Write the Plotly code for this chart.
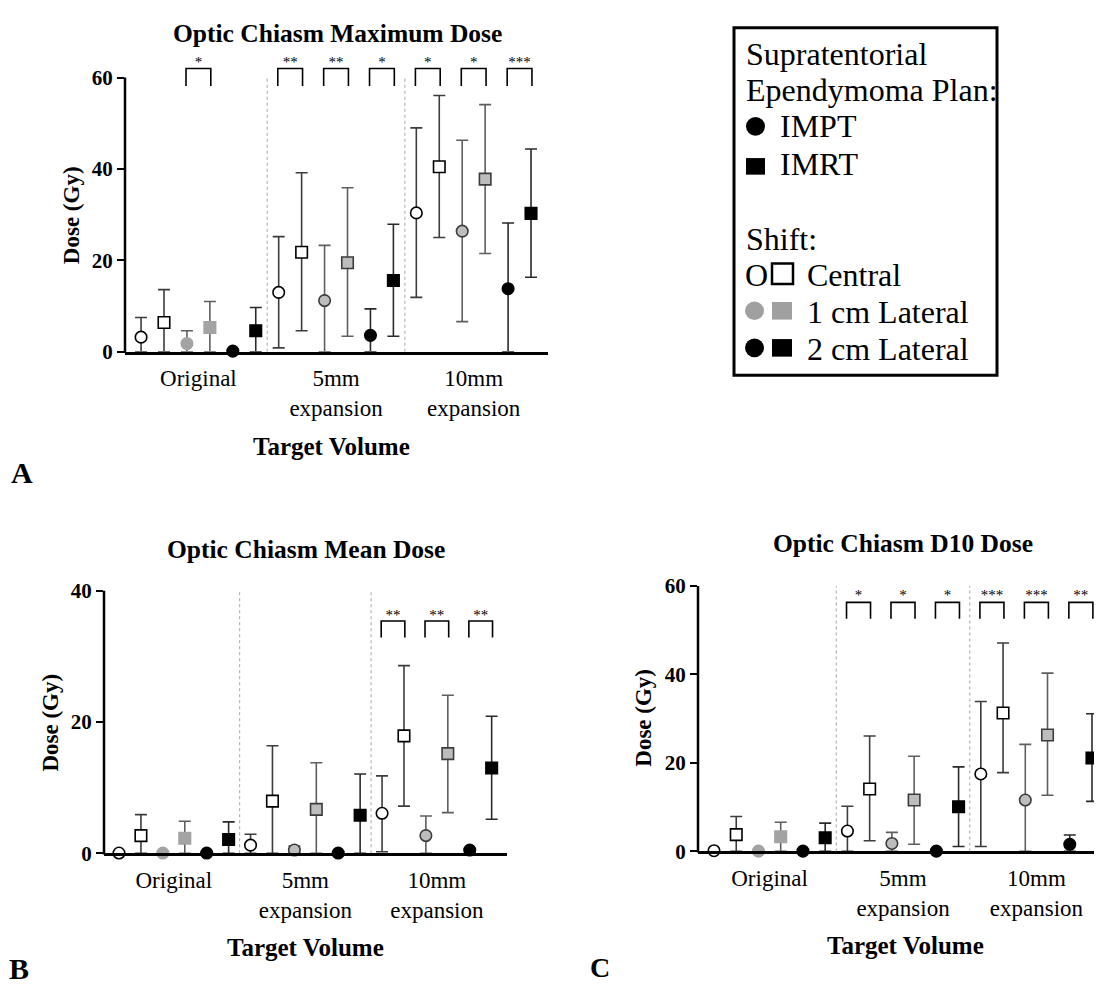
import plotly.graph_objects as go

W, H = 1102, 992
OFF = 8  # page body margin in the browser: figure starts 8px right/down


def X(px):
    return (px - OFF) / W


def Y(py):
    return 1 - (py - OFF) / H


FONT = "Liberation Serif, Times New Roman, serif"

# ---------------- data ----------------
group_labels = ["Original", "5mm<br>expansion", "10mm<br>expansion"]
# series order inside each group:
series_names = ["IMPT Central", "IMRT Central", "IMPT 1 cm Lateral",
                "IMRT 1 cm Lateral", "IMPT 2 cm Lateral", "IMRT 2 cm Lateral"]

# Panel A: Optic Chiasm Maximum Dose (Gy) - 18 values: Original(6), 5mm(6), 10mm(6)
max_mean = [3.2, 6.4, 1.8, 5.3, 0.15, 4.6,
            13.0, 21.8, 11.2, 19.5, 3.6, 15.6,
            30.4, 40.5, 26.4, 37.8, 13.8, 30.3]
max_hi = [7.5, 13.6, 4.6, 11.0, 0.15, 9.7,
          25.2, 39.2, 23.3, 35.9, 9.4, 27.9,
          49.0, 56.1, 46.3, 54.1, 28.2, 44.4]
max_lo = [0, 0, 0, 0, 0.15, 0,
          0.85, 4.6, 0, 3.4, 0, 3.4,
          11.9, 25.0, 6.6, 21.5, 0, 16.3]
max_pairs = [(2, 3), (6, 7), (8, 9), (10, 11), (12, 13), (14, 15), (16, 17)]
max_stars = ["*", "**", "**", "*", "*", "*", "***"]

# Panel B: Optic Chiasm Mean Dose (Gy)
mean_mean = [0.05, 2.7, 0.05, 2.3, 0.05, 2.1,
             1.25, 7.95, 0.5, 6.7, 0.05, 5.8,
             6.1, 17.9, 2.7, 15.2, 0.5, 13.0]
mean_hi = [0.05, 5.9, 0.05, 4.9, 0.05, 4.8,
           2.9, 16.4, 1.1, 13.8, 0.05, 12.1,
           11.8, 28.6, 5.7, 24.1, 0.5, 20.9]
mean_lo = [0, 0, 0, 0, 0, 0,
           0, 0, 0, 0, 0, 0,
           0.25, 7.2, 0, 6.2, 0.5, 5.2]
mean_pairs = [(12, 13), (14, 15), (16, 17)]
mean_stars = ["**", "**", "**"]

# Panel C: Optic Chiasm D10 Dose (Gy)
d10_mean = [0.15, 3.8, 0.05, 3.3, 0.05, 3.1,
            4.6, 14.1, 1.8, 11.6, 0.05, 10.1,
            17.5, 31.3, 11.6, 26.3, 1.6, 21.1]
d10_hi = [0.15, 7.9, 0.05, 6.6, 0.05, 6.4,
          10.2, 26.1, 4.3, 21.5, 0.05, 19.1,
          33.9, 47.1, 24.2, 40.3, 3.7, 31.1]
d10_lo = [0.15, 0, 0, 0, 0, 0,
          0, 2.4, 0, 1.6, 0, 1.1,
          1.1, 17.8, 0, 12.7, 0, 11.3]
d10_pairs = [(6, 7), (8, 9), (10, 11), (12, 13), (14, 15), (16, 17)]
d10_stars = ["*", "*", "*", "***", "***", "**"]

n_series = len(series_names)
n_groups = len(group_labels)

# ---------------- panel layout (reference pixels) ----------------
panels = [
    dict(key="", mean=max_mean, hi=max_hi, lo=max_lo, pairs=max_pairs, stars=max_stars,
         title="Optic Chiasm Maximum Dose", xpx=(125, 548), ypx=(348, 39), yaxis_top_px=67,
         xrange=[-0.7, 17.74], yrange=[0, 66], ytop=60, yticks=[0, 20, 40, 60],
         br=(58.2, 62.0, 63.2), title_pos=(337, 22), xtitle_pos=(331, 445), ytitle_pos=(71, 208),
         label="A", label_pos=(22, 472), label_size=30),
    dict(key="2", mean=mean_mean, hi=mean_hi, lo=mean_lo, pairs=mean_pairs, stars=mean_stars,
         title="Optic Chiasm Mean Dose", xpx=(104, 507), ypx=(862, 593), yaxis_top_px=593,
         xrange=[-0.685, 17.7], yrange=[0, 40], ytop=40, yticks=[0, 20, 40],
         br=(32.9, 35.4, 36.2), title_pos=(306, 551), xtitle_pos=(305, 958), ytitle_pos=(51, 728),
         label="B", label_pos=(19, 980), label_size=30),
    dict(key="3", mean=d10_mean, hi=d10_hi, lo=d10_lo, pairs=d10_pairs, stars=d10_stars,
         title="Optic Chiasm D10 Dose", xpx=(698, 1110), ypx=(860, 588), yaxis_top_px=588,
         xrange=[-0.72, 17.81], yrange=[0, 60], ytop=60, yticks=[0, 20, 40, 60],
         br=(52.6, 56.3, 57.6), title_pos=(903, 544), xtitle_pos=(905, 956), ytitle_pos=(644, 723),
         label="C", label_pos=(600, 979), label_size=28),
]

symbols = ["circle", "square"] * 3
GRAY_FLAT = "#a3a3a3"
GRAY_FILL = "#bdbdbd"


def marker_style(k):
    shift = k // 2
    if shift == 0:
        return ["white"] * 3, ["black"] * 3, "#3c3c3c"
    if shift == 1:
        return [GRAY_FLAT, GRAY_FILL, GRAY_FILL], [GRAY_FLAT, "#3c3c3c", "#3c3c3c"], "#5e5e5e"
    return ["black"] * 3, ["black"] * 3, "#2a2a2a"


fig = go.Figure()
shapes = []
annotations = []

for p in panels:
    xa = "x" + p["key"]
    ya = "y" + p["key"]
    for k in range(n_series):
        idx = [g * n_series + k for g in range(n_groups)]
        ys = [p["mean"][i] for i in idx]
        plus = [max(p["hi"][i] - p["mean"][i], 0) for i in idx]
        minus = [max(p["mean"][i] - p["lo"][i], 0) for i in idx]
        fills, lines, ecol = marker_style(k)
        fig.add_trace(go.Scatter(
            x=idx, y=ys, mode="markers", name=series_names[k], xaxis=xa, yaxis=ya,
            showlegend=False, cliponaxis=False,
            marker=dict(symbol=symbols[k], size=11.5, color=fills,
                        line=dict(color=lines, width=1.6)),
            error_y=dict(type="data", symmetric=False, array=plus, arrayminus=minus,
                         color=ecol, thickness=1.6, width=6),
        ))
    # significance brackets
    b0, b1, bs = p["br"]
    bx, by = [], []
    for (i, j) in p["pairs"]:
        bx += [i - 0.04, i - 0.04, j + 0.04, j + 0.04, None]
        by += [b0, b1, b1, b0, None]
    fig.add_trace(go.Scatter(x=bx, y=by, mode="lines", xaxis=xa, yaxis=ya, showlegend=False,
                             line=dict(color="black", width=1.6), hoverinfo="skip"))
    fig.add_trace(go.Scatter(x=[(i + j) / 2 for (i, j) in p["pairs"]], y=[bs] * len(p["pairs"]),
                             mode="text", text=p["stars"], textposition="middle center",
                             textfont=dict(family=FONT, size=15, color="black"),
                             xaxis=xa, yaxis=ya, showlegend=False, cliponaxis=False,
                             hoverinfo="skip"))
    # dotted group separators
    for g in range(1, n_groups):
        xsep = g * n_series - 0.5
        shapes.append(dict(type="line", xref=xa, yref=ya, x0=xsep, x1=xsep, y0=0, y1=p["ytop"],
                           line=dict(color="#b5b5b5", width=1.2, dash="dot")))
    # y axis line (stops at top tick)
    shapes.append(dict(type="line", xref="paper", yref="paper",
                       x0=X(p["xpx"][0]), x1=X(p["xpx"][0]),
                       y0=Y(p["ypx"][0] + 1.2), y1=Y(p["yaxis_top_px"]),
                       line=dict(color="black", width=2.5)))
    # titles
    annotations.append(dict(text=p["title"], x=X(p["title_pos"][0]), y=Y(p["title_pos"][1]),
                            xref="paper", yref="paper", xanchor="center", yanchor="middle",
                            showarrow=False,
                            font=dict(family=FONT, size=25.5, color="black", weight="bold")))
    annotations.append(dict(text="Target Volume", x=X(p["xtitle_pos"][0]), y=Y(p["xtitle_pos"][1]),
                            xref="paper", yref="paper", xanchor="center", yanchor="middle",
                            showarrow=False,
                            font=dict(family=FONT, size=25, color="black", weight="bold")))
    annotations.append(dict(text="Dose (Gy)", x=X(p["ytitle_pos"][0]), y=Y(p["ytitle_pos"][1]),
                            xref="paper", yref="paper", xanchor="center", yanchor="middle",
                            textangle=-90, showarrow=False,
                            font=dict(family=FONT, size=23, color="black", weight="bold")))
    annotations.append(dict(text=p["label"], x=X(p["label_pos"][0]), y=Y(p["label_pos"][1]),
                            xref="paper", yref="paper", xanchor="center", yanchor="middle",
                            showarrow=False,
                            font=dict(family=FONT, size=p["label_size"], color="black",
                                      weight="bold")))

# ---------------- legend box ----------------
shapes.append(dict(type="rect", xref="paper", yref="paper", x0=X(734), x1=X(997),
                   y0=Y(372), y1=Y(16), line=dict(color="black", width=3)))

LEG_GRAY = "#a0a0a0"


def leg_circle(x0, yc, color, d=19):
    shapes.append(dict(type="circle", xref="paper", yref="paper",
                       x0=X(x0), x1=X(x0 + d), y0=Y(yc + d / 2), y1=Y(yc - d / 2),
                       fillcolor=color, line=dict(color=color, width=0)))


def leg_square(x0, yc, color, w=19, h=17, hollow=False):
    shapes.append(dict(type="rect", xref="paper", yref="paper",
                       x0=X(x0), x1=X(x0 + w), y0=Y(yc + h / 2), y1=Y(yc - h / 2),
                       fillcolor="rgba(0,0,0,0)" if hollow else color,
                       line=dict(color=color, width=2.5 if hollow else 0)))


leg_circle(746, 117, "black")
leg_square(746, 158, "black")
leg_square(772, 268, "black", w=21, h=21, hollow=True)
leg_circle(745, 306, LEG_GRAY)
leg_square(772, 306, LEG_GRAY, w=20, h=18)
leg_circle(745, 344, "black")
leg_square(772, 344, "black", w=20, h=18)

legend_text = [
    ("Supratentorial", 744, 43),
    ("Ependymoma Plan:", 744, 80),
    ("IMPT", 778, 117),
    ("IMRT", 778, 156),
    ("Shift:", 744, 232),
    ("O", 743, 269),
    ("Central", 805, 269),
    ("1 cm Lateral", 805, 307),
    ("2 cm Lateral", 805, 345),
]
for txt, xpx, ypx in legend_text:
    annotations.append(dict(text=txt, x=X(xpx), y=Y(ypx), xref="paper", yref="paper",
                            xanchor="left", yanchor="middle", showarrow=False,
                            font=dict(family=FONT, size=32, color="black")))

# ---------------- axes ----------------
layout_axes = {}
for p in panels:
    k = p["key"]
    layout_axes["xaxis" + k] = dict(
        domain=[X(p["xpx"][0]), min(X(p["xpx"][1]), 1.0)], range=p["xrange"],
        anchor="y" + k, showline=True, linecolor="black", linewidth=2.5,
        showgrid=False, zeroline=False, ticks="", tickmode="array",
        tickvals=[g * n_series + (n_series - 1) / 2 for g in range(n_groups)],
        ticktext=group_labels, ticklabelstandoff=4,
        tickfont=dict(family=FONT, size=23, color="black"), fixedrange=True)
    layout_axes["yaxis" + k] = dict(
        domain=[Y(p["ypx"][0]), Y(p["ypx"][1])], range=p["yrange"],
        anchor="x" + k, showline=False, showgrid=False, zeroline=False,
        ticks="outside", ticklen=7, tickwidth=2, tickcolor="black",
        tickmode="array", tickvals=p["yticks"],
        tickfont=dict(family=FONT, size=21, color="black", weight="bold"), fixedrange=True)

fig.update_layout(
    width=W, height=H, margin=dict(l=0, r=0, t=0, b=0),
    paper_bgcolor="white", plot_bgcolor="rgba(0,0,0,0)",
    shapes=shapes, annotations=annotations, showlegend=False,
    **layout_axes,
)

fig.write_html("out.html")
